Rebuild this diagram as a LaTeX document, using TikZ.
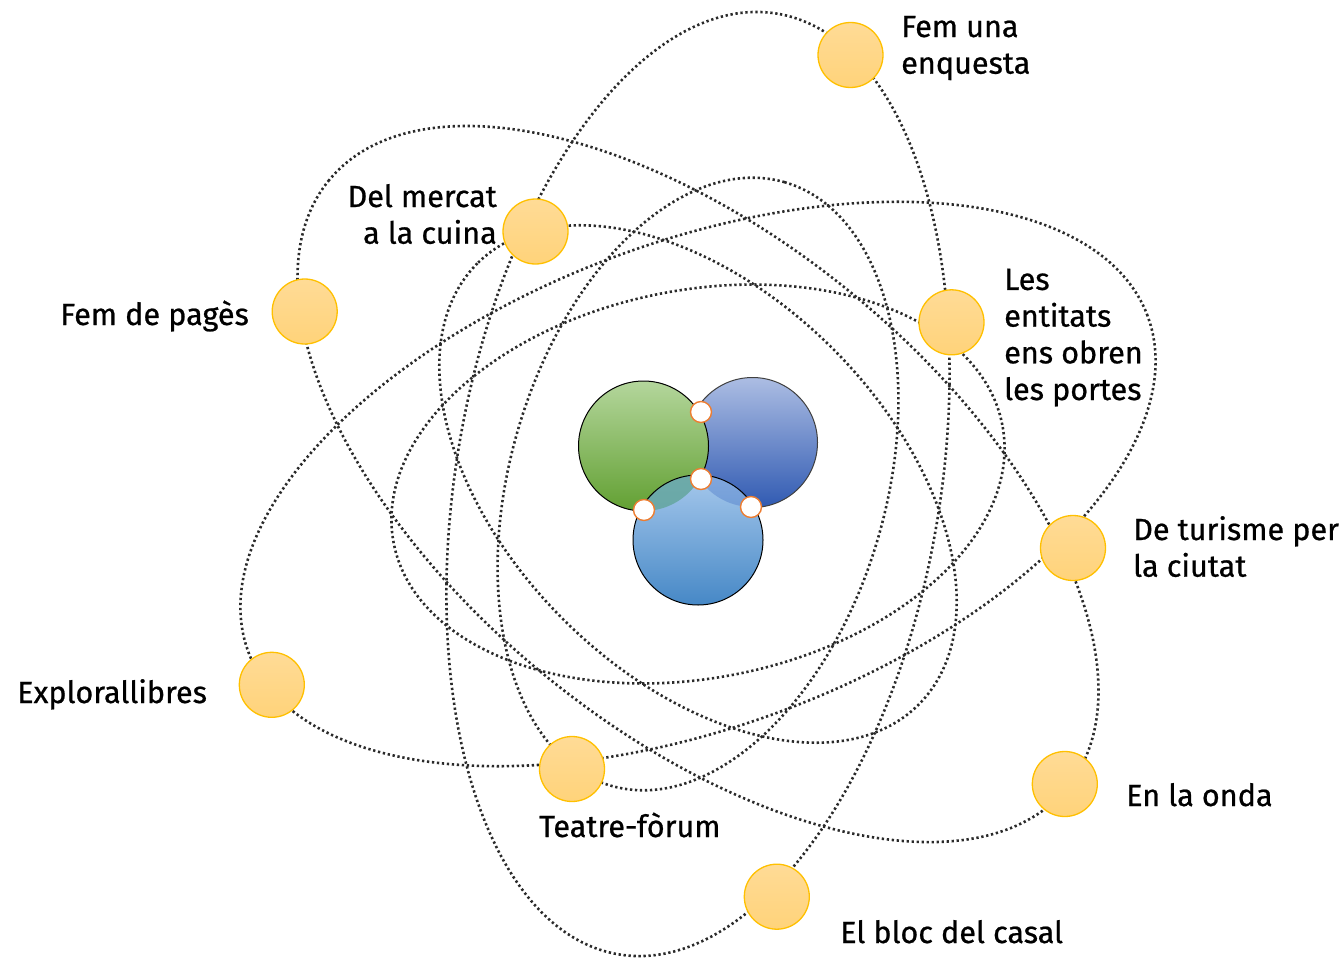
\documentclass[tikz,border=0pt]{standalone}
\usepackage{fontspec}
\setmainfont{Fira Sans}[FakeBold=0.7]
\definecolor{orbitc}{RGB}{42,42,42}
\definecolor{ytop}{RGB}{255,219,150}
\definecolor{ybot}{RGB}{255,211,122}
\definecolor{gold}{RGB}{255,192,0}
\definecolor{dotorange}{RGB}{237,125,49}
\definecolor{gtop}{RGB}{180,214,156}
\definecolor{gmid}{RGB}{110,174,64}
\definecolor{gbot}{RGB}{98,160,50}
\definecolor{btop}{RGB}{172,189,227}
\definecolor{bmid}{RGB}{62,108,196}
\definecolor{bbot}{RGB}{48,90,178}
\definecolor{ltop}{RGB}{166,200,236}
\definecolor{lmid}{RGB}{82,150,214}
\definecolor{lbot}{RGB}{70,136,198}
\definecolor{teal}{RGB}{100,166,158}
\tikzset{
  orbit/.style={draw=orbitc, line width=2.6pt, dash pattern=on 2.3pt off 2.7pt},
  ycirc/.style={circle, minimum size=65pt, inner sep=0pt, draw=gold, line width=1.3pt, top color=ytop, bottom color=ybot},
  ball/.style={circle, minimum size=130pt, inner sep=0pt, line width=1pt},
  wdot/.style={circle, minimum size=21pt, inner sep=0pt, fill=white, draw=dotorange, line width=1.4pt},
  lbl/.style={font=\fontsize{30.6}{36.7}\selectfont, inner sep=0pt, align=left},
}
\begin{document}
\begin{tikzpicture}[x=1pt,y=-1pt]
\useasboundingbox (0,0) rectangle (1344,958);
\coordinate (C) at (698,484);
% large orbits
\draw[orbit, rotate around={20.5:(C)}] (C) ellipse [x radius=480pt, y radius=242pt];
\draw[orbit, rotate around={80.4:(C)}] (C) ellipse [x radius=477pt, y radius=242pt];
\draw[orbit, rotate around={140.5:(C)}] (C) ellipse [x radius=478pt, y radius=245pt];
% small orbits
\draw[orbit, rotate around={11:(C)}] (C) ellipse [x radius=310pt, y radius=194pt];
\draw[orbit, rotate around={74:(C)}] (C) ellipse [x radius=314pt, y radius=188pt];
\draw[orbit, rotate around={135:(C)}] (C) ellipse [x radius=312pt, y radius=191pt];
% nucleus
\node[ball, draw=black!75, top color=btop, middle color=bmid, bottom color=bbot] (bl) at (752.5,442.5) {};
\node[ball, draw=black, top color=gtop, middle color=gmid, bottom color=gbot] (gr) at (643.5,446) {};
\node[ball, top color=ltop, middle color=lmid, bottom color=lbot] (lb) at (698,540) {};
\begin{scope}
  \clip (698,540) circle [radius=65pt];
  \fill[teal, fill opacity=0.85] (643.5,446) circle [radius=65pt];
  \fill[bmid, fill opacity=0.35] (752.5,442.5) circle [radius=64.5pt];
\end{scope}
\draw[black, line width=1pt] (lb.center) circle [radius=65pt];
\node[wdot] (w1) at (701,412) {};
\node[wdot] (w2) at (701,479) {};
\node[wdot] (w3) at (644,510) {};
\node[wdot] (w4) at (751,507) {};
% electrons
\node[ycirc] (enq) at (850.5,55) {};
\node[ycirc] (mer) at (535.5,231.5) {};
\node[ycirc] (pag) at (304.7,311.5) {};
\node[ycirc] (ent) at (951.5,322.3) {};
\node[ycirc] (tur) at (1073,548) {};
\node[ycirc] (exp) at (271.8,684.8) {};
\node[ycirc] (tea) at (572,769) {};
\node[ycirc] (ond) at (1064.8,784) {};
\node[ycirc] (blo) at (776.8,896.7) {};
% labels (multi-line nodes: base = last line)
\node[lbl, anchor=base west] (l-enq) at (901,73.7) {Fem una\\enquesta};
\node[lbl, anchor=base east, align=right] (l-mer) at (497,243.7) {Del mercat\\a la cuina};
\node[lbl, anchor=base west] (l-pag) at (60,325) {Fem de pagès};
\node[lbl, anchor=base west] (l-ent) at (1004,400) {Les\\entitats\\ens obren\\les portes};
\node[lbl, anchor=base west] (l-tur) at (1133,576.7) {De turisme per\\la ciutat};
\node[lbl, anchor=base west] (l-exp) at (17,703) {Explorallibres};
\node[lbl, anchor=base west] (l-tea) at (539,837) {Teatre-fòrum};
\node[lbl, anchor=base west] (l-ond) at (1126,806) {En la onda};
\node[lbl, anchor=base west] (l-blo) at (840,943) {El bloc del casal};
\end{tikzpicture}
\end{document}
